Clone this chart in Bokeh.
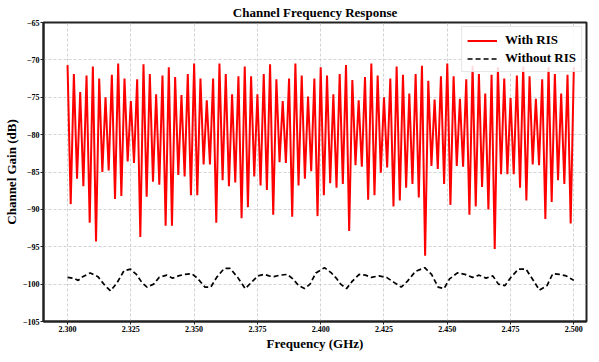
import numpy as np
from bokeh.plotting import figure
from bokeh.models import Range1d, FixedTicker, PrintfTickFormatter, Legend, LegendItem
from bokeh.embed import file_html
from bokeh.resources import INLINE

# ---- data ----
freq_start = 2.300
freq_stop = 2.500
n_lobes = 80

# "With RIS": lobe maxima (81 values, 2.300 ... 2.500 GHz, every 2.5 MHz)
ris_peaks = [
    -70.7, -71.9, -74.3, -72.1, -70.9, -72.5, -75.0, -72.0, -70.5, -72.5, -75.5, -72.6, -70.6,
    -71.9, -74.6, -72.1, -71.0, -72.3, -74.7, -71.9, -70.5, -72.5, -75.4, -72.5, -70.5, -71.9, -74.6,
    -72.2, -70.9, -72.2, -74.6, -71.9, -70.6, -72.6, -75.5, -72.5, -70.5, -72.1, -74.9, -72.5,
    -71.0, -72.1, -74.6, -71.9, -70.7, -72.7, -75.4, -72.3, -70.5, -72.1, -75.0, -72.5, -70.9,
    -72.0, -74.5, -71.9, -70.8, -72.8, -75.3, -72.2, -70.5, -72.2, -75.2, -72.6, -70.8, -71.9,
    -74.5, -72.0, -71.0, -72.5, -75.1, -72.1, -70.9, -72.2, -75.2, -72.6, -71.0, -71.9, -74.5, -72.0, -71.0,
]
# "With RIS": notches between consecutive maxima (80 values)
ris_dips = [
    -89.3, -85.9, -86.9, -91.8, -94.3, -85.0, -84.8, -88.6, -88.2, -83.6, -83.8, -93.7, -88.3,
    -86.3, -86.7, -92.2, -92.2, -85.4, -85.6, -88.1, -88.1, -84.0, -84.0, -91.8, -86.1, -86.9,
    -86.4, -91.2, -89.7, -85.6, -86.8, -87.4, -90.7, -83.7, -83.8, -91.0, -86.8, -85.9, -84.9, -90.9,
    -88.1, -86.5, -87.1, -86.6, -92.9, -84.1, -84.3, -88.7, -88.1, -85.1, -84.4, -89.6, -88.8,
    -87.1, -86.6, -88.4, -96.2, -84.2, -84.6, -86.6, -89.4, -84.2, -84.3, -90.7, -89.6, -87.0,
    -90.0, -95.3, -85.3, -85.3, -85.3, -87.1, -88.8, -84.0, -84.1, -91.3, -89.0, -86.1, -86.6, -91.9,
]

# "Without RIS"
noris_f = [
    2.3000, 2.3023, 2.3042, 2.3060, 2.3090, 2.3120, 2.3148, 2.3170, 2.3196, 2.3223, 2.3249,
    2.3272, 2.3294, 2.3314, 2.3340, 2.3362, 2.3392, 2.3415, 2.3438, 2.3460, 2.3490, 2.3513,
    2.3543, 2.3566, 2.3589, 2.3619, 2.3642, 2.3672, 2.3702, 2.3725, 2.3752, 2.3777, 2.3796,
    2.3815, 2.3838, 2.3868, 2.3890, 2.3913, 2.3936, 2.3958, 2.3981, 2.4015, 2.4042, 2.4064,
    2.4079, 2.4102, 2.4125, 2.4152, 2.4177, 2.4200, 2.4230, 2.4260, 2.4291, 2.4318, 2.4343,
    2.4374, 2.4411, 2.4438, 2.4464, 2.4487, 2.4509, 2.4540, 2.4570, 2.4600, 2.4626, 2.4653,
    2.4680, 2.4702, 2.4728, 2.4751, 2.4781, 2.4811, 2.4842, 2.4864, 2.4894, 2.4917, 2.4943,
    2.4970, 2.5000,
]
noris_db = [
    -99.1, -99.2, -99.5, -99.0, -98.5, -99.0, -100.2, -100.9, -99.8, -98.2, -98.0,
    -98.7, -99.8, -100.4, -100.0, -99.1, -98.8, -99.2, -98.9, -98.7, -98.6, -99.2,
    -100.4, -100.4, -99.1, -97.9, -97.9, -99.1, -100.6, -99.8, -98.9, -98.7, -98.9,
    -99.0, -98.8, -98.7, -99.3, -100.2, -100.6, -100.0, -98.5, -97.8, -98.5, -99.3,
    -100.0, -100.6, -99.6, -98.7, -98.8, -99.1, -98.9, -99.1, -99.8, -100.4, -99.6,
    -98.3, -97.8, -98.7, -100.4, -100.6, -99.3, -98.5, -98.7, -99.1, -98.8, -99.2,
    -98.9, -100.0, -100.2, -99.1, -98.0, -98.0, -99.6, -100.8, -100.2, -98.6, -98.7,
    -98.9, -99.5,
]

x_ticks = [2.300, 2.325, 2.350, 2.375, 2.400, 2.425, 2.450, 2.475, 2.500]
y_ticks = [-105, -100, -95, -90, -85, -80, -75, -70, -65]
y_tick_labels = ["\u2212105", "\u2212100", "\u221295", "\u221290", "\u221285",
                 "\u221280", "\u221275", "\u221270", "\u221265"]

# interleave maxima and notches on the sampling grid
ris_f = np.linspace(freq_start, freq_stop, 2 * n_lobes + 1)
ris_db = np.empty(2 * n_lobes + 1)
ris_db[0::2] = ris_peaks
ris_db[1::2] = ris_dips

FONT = "Liberation Serif"

p = figure(frame_width=543, frame_height=299, output_backend="svg", toolbar_location=None,
           x_range=Range1d(2.2905, 2.5050), y_range=Range1d(-105, -65),
           title="Channel Frequency Response",
           min_border_left=0, min_border_right=2, min_border_top=0, min_border_bottom=0)

p.title.text_font = FONT
p.title.text_font_size = "13px"
p.title.text_font_style = "bold"
p.title.text_color = "black"
p.title.align = "center"
p.title.standoff = 5

r1 = p.line(ris_f, ris_db, line_color="#ff0000", line_width=2.0)
r2 = p.line(noris_f, noris_db, line_color="black", line_width=1.7, line_dash="5 3")

for ax in (p.xaxis[0], p.yaxis[0]):
    ax.major_label_text_font = FONT
    ax.major_label_text_font_style = "bold"
    ax.major_label_text_font_size = "8px"
    ax.major_label_text_color = "black"
    ax.axis_label_text_font = FONT
    ax.axis_label_text_font_style = "bold"
    ax.axis_label_text_font_size = "13px"
    ax.axis_label_text_color = "black"
    ax.axis_line_width = 2
    ax.axis_line_color = "#222222"
    ax.major_tick_out = 3
    ax.major_tick_in = 0
    ax.major_tick_line_color = "#222222"
    ax.minor_tick_out = 0
    ax.minor_tick_in = 0
    ax.major_label_standoff = 1
    ax.axis_label_standoff = 1

p.xaxis[0].axis_label = "Frequency (GHz)"
p.yaxis[0].axis_label = "Channel Gain (dB)"
p.xaxis[0].ticker = FixedTicker(ticks=x_ticks)
p.xaxis[0].formatter = PrintfTickFormatter(format="%.3f")
p.yaxis[0].ticker = FixedTicker(ticks=y_ticks)
p.yaxis[0].major_label_overrides = {t: s for t, s in zip(y_ticks, y_tick_labels)}

p.outline_line_color = "#222222"
p.outline_line_width = 2
p.outline_line_alpha = 1

for g in (p.xgrid[0], p.ygrid[0]):
    g.grid_line_color = "#c8c8c8"
    g.grid_line_dash = "3 2"
    g.grid_line_width = 0.8

legend = Legend(items=[LegendItem(label="With RIS", renderers=[r1]),
                       LegendItem(label="Without RIS", renderers=[r2])],
                location="top_right")
legend.label_text_font = FONT
legend.label_text_font_style = "bold"
legend.label_text_font_size = "13px"
legend.label_text_color = "black"
legend.label_standoff = 8
legend.border_line_color = "#d0d0d0"
legend.border_line_width = 1
legend.background_fill_alpha = 0.85
legend.glyph_width = 30
legend.glyph_height = 15
legend.label_height = 15
legend.spacing = 2
legend.padding = 5
legend.margin = 4
p.add_layout(legend)

open("out.html", "w").write(file_html(p, INLINE))
